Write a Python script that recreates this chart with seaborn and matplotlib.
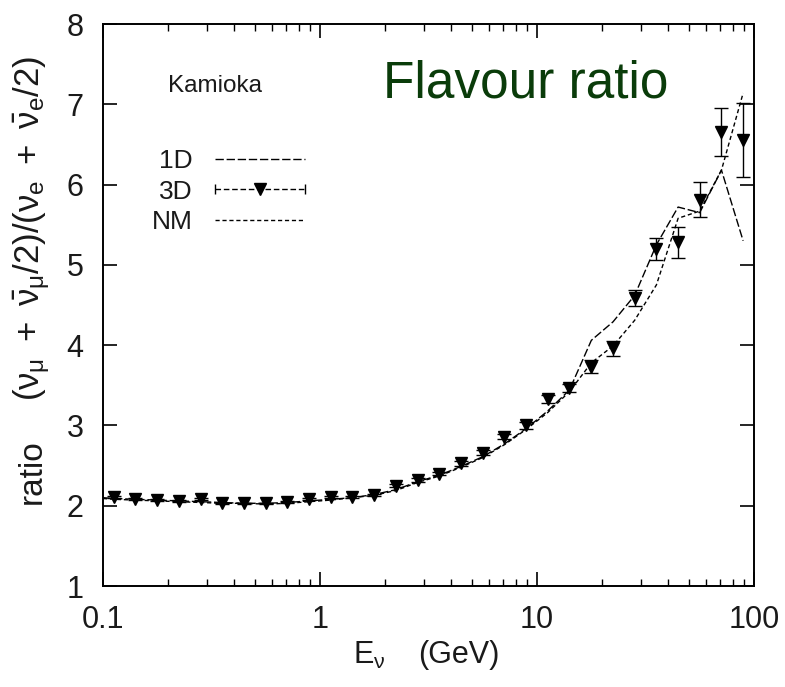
import numpy as np
import pandas as pd
import matplotlib
matplotlib.use("Agg")
import matplotlib.pyplot as plt
from matplotlib.lines import Line2D
from matplotlib.legend_handler import HandlerBase
from matplotlib.ticker import FixedLocator, FixedFormatter, LogLocator, NullFormatter
import seaborn as sns

# ---------------- data ----------------
energy = [0.112, 0.141, 0.178, 0.224, 0.282, 0.355, 0.447, 0.562, 0.708, 0.891,
          1.12, 1.41, 1.78, 2.24, 2.82, 3.55, 4.47, 5.62, 7.08, 8.91,
          11.2, 14.1, 17.8, 22.4, 28.2, 35.5, 44.7, 56.2, 70.8, 89.1]
ratio_3d = [2.11, 2.08, 2.07, 2.06, 2.08, 2.03, 2.03, 2.03, 2.05, 2.08,
            2.11, 2.11, 2.13, 2.25, 2.32, 2.40, 2.53, 2.66, 2.86, 3.00,
            3.33, 3.47, 3.73, 3.96, 4.59, 5.20, 5.28, 5.81, 6.65, 6.55]
err_3d = [0.01, 0.01, 0.01, 0.01, 0.01, 0.01, 0.01, 0.01, 0.01, 0.01,
          0.01, 0.01, 0.01, 0.02, 0.02, 0.02, 0.03, 0.03, 0.03, 0.04,
          0.05, 0.05, 0.08, 0.09, 0.10, 0.14, 0.19, 0.22, 0.30, 0.46]

energy_line = [0.1] + energy
ratio_1d = [2.10, 2.09, 2.08, 2.07, 2.06, 2.05, 2.04, 2.03, 2.03, 2.04, 2.06,
            2.08, 2.10, 2.14, 2.20, 2.30, 2.38, 2.49, 2.61, 2.77, 2.96,
            3.18, 3.44, 4.06, 4.29, 4.62, 5.25, 5.72, 5.65, 6.18, 5.30]
ratio_nm = [2.09, 2.08, 2.07, 2.06, 2.05, 2.04, 2.03, 2.03, 2.02, 2.03, 2.05,
            2.07, 2.10, 2.13, 2.19, 2.29, 2.37, 2.48, 2.60, 2.76, 2.95,
            3.16, 3.42, 3.78, 3.99, 4.31, 4.75, 5.58, 5.67, 6.18, 7.14]

x_ticks = [0.1, 1, 10, 100]
x_ticklabels = ["0.1", "1", "10", "100"]
y_ticks = [1, 2, 3, 4, 5, 6, 7, 8]
series_labels = ["1D", "3D", "NM"]

# ---------------- style ----------------
TXT = "#1a1a1a"
sns.set_style("ticks")
plt.rcParams["font.family"] = ["Liberation Sans", "DejaVu Sans"]
plt.rcParams["mathtext.fontset"] = "custom"
plt.rcParams["mathtext.rm"] = "Liberation Sans"
plt.rcParams["mathtext.it"] = "Liberation Sans"
plt.rcParams["mathtext.bf"] = "Liberation Sans:bold"
plt.rcParams["text.color"] = TXT
plt.rcParams["xtick.color"] = "black"
plt.rcParams["ytick.color"] = "black"
plt.rcParams["xtick.labelcolor"] = TXT
plt.rcParams["ytick.labelcolor"] = TXT

W, H = 785, 687
fig = plt.figure(figsize=(W / 100, H / 100), dpi=100)
ax = fig.add_axes([103 / W, 1 - 586 / H, (754 - 103) / W, (586 - 24) / H])

df1 = pd.DataFrame({"energy": energy_line, "ratio": ratio_1d})
dfn = pd.DataFrame({"energy": energy_line, "ratio": ratio_nm})

sns.lineplot(data=df1, x="energy", y="ratio", ax=ax, color="black",
             linewidth=1.0, linestyle=(0, (6, 2)), sort=False)
sns.lineplot(data=dfn, x="energy", y="ratio", ax=ax, color="black",
             linewidth=1.0, linestyle=(0, (3, 2)), sort=False)
ax.errorbar(energy, ratio_3d, yerr=err_3d, fmt="v", color="black",
            markersize=8, capsize=5, elinewidth=1.0, capthick=1.0)

ax.set_xscale("log")
ax.set_xlim(0.1, 100)
ax.set_ylim(1, 8)
ax.xaxis.set_major_locator(FixedLocator(x_ticks))
ax.xaxis.set_major_formatter(FixedFormatter(x_ticklabels))
ax.xaxis.set_minor_locator(LogLocator(base=10, subs=np.arange(2, 10)))
ax.xaxis.set_minor_formatter(NullFormatter())
ax.yaxis.set_major_locator(FixedLocator(y_ticks))
ax.set_xlabel("")
ax.set_ylabel("")

for s in ax.spines.values():
    s.set_linewidth(1.4)
    s.set_color("black")
    s.set_visible(True)
ax.tick_params(which="major", direction="in", length=10, width=1.2,
               top=True, right=True, labelsize=22, pad=14)
ax.tick_params(which="minor", direction="in", length=5, width=1.0,
               top=True, right=True)
ax.tick_params(axis="y", which="minor", left=False, right=False)

# texts
fig.text(168 / W, 1 - 86 / H, "Kamioka", fontsize=17.5,
         ha="left", va="center")
fig.text(383 / W, 1 - 84 / H, "Flavour ratio", fontsize=37, color="#0a3c0a",
         ha="left", va="center")
fig.text(369 / W, 1 - 655 / H, r"E$_\nu$", fontsize=22,
         ha="center", va="center")
fig.text(459 / W, 1 - 655 / H, "(GeV)", fontsize=22,
         ha="center", va="center")
fig.text(32 / W, 1 - 472 / H, "ratio", fontsize=24, rotation=90,
         ha="center", va="center")
fig.text(32 / W, 1 - 228 / H,
         r"$(\nu_\mu\ +\ \bar{\nu}_\mu/2)/(\nu_e\ +\ \bar{\nu}_e/2)$",
         fontsize=25, rotation=90, ha="center", va="center")


# legend
class ErrKeyHandler(HandlerBase):
    def create_artists(self, legend, orig_handle, xdescent, ydescent,
                       width, height, fontsize, trans):
        y = height / 2 - ydescent
        x0, x1 = -xdescent, width - xdescent
        line = Line2D([x0, x1], [y, y], color="black", lw=1.0, ls=(0, (4, 2)))
        caps = Line2D([x0, x1], [y, y], ls="none", marker="|", ms=7,
                      color="black", mew=1.0)
        mk = Line2D([(x0 + x1) / 2], [y], marker="v", ms=8, color="black",
                    ls="none")
        for a in (line, caps, mk):
            a.set_transform(trans)
        return [line, caps, mk]


h1 = Line2D([], [], color="black", lw=1.0, ls=(0, (6, 2)))
h3 = Line2D([], [], color="black", marker="v")
hn = Line2D([], [], color="black", lw=1.0, ls=(0, (3, 2)))
leg = fig.legend([h1, h3, hn], series_labels, loc="upper right",
                 bbox_to_anchor=(305 / W, 1 - 149 / H), frameon=False,
                 markerfirst=False, fontsize=19, handlelength=3.4,
                 handletextpad=0.85, labelspacing=0.25, borderpad=0,
                 borderaxespad=0, handler_map={h3: ErrKeyHandler()})

fig.savefig("out.png", dpi=100)
